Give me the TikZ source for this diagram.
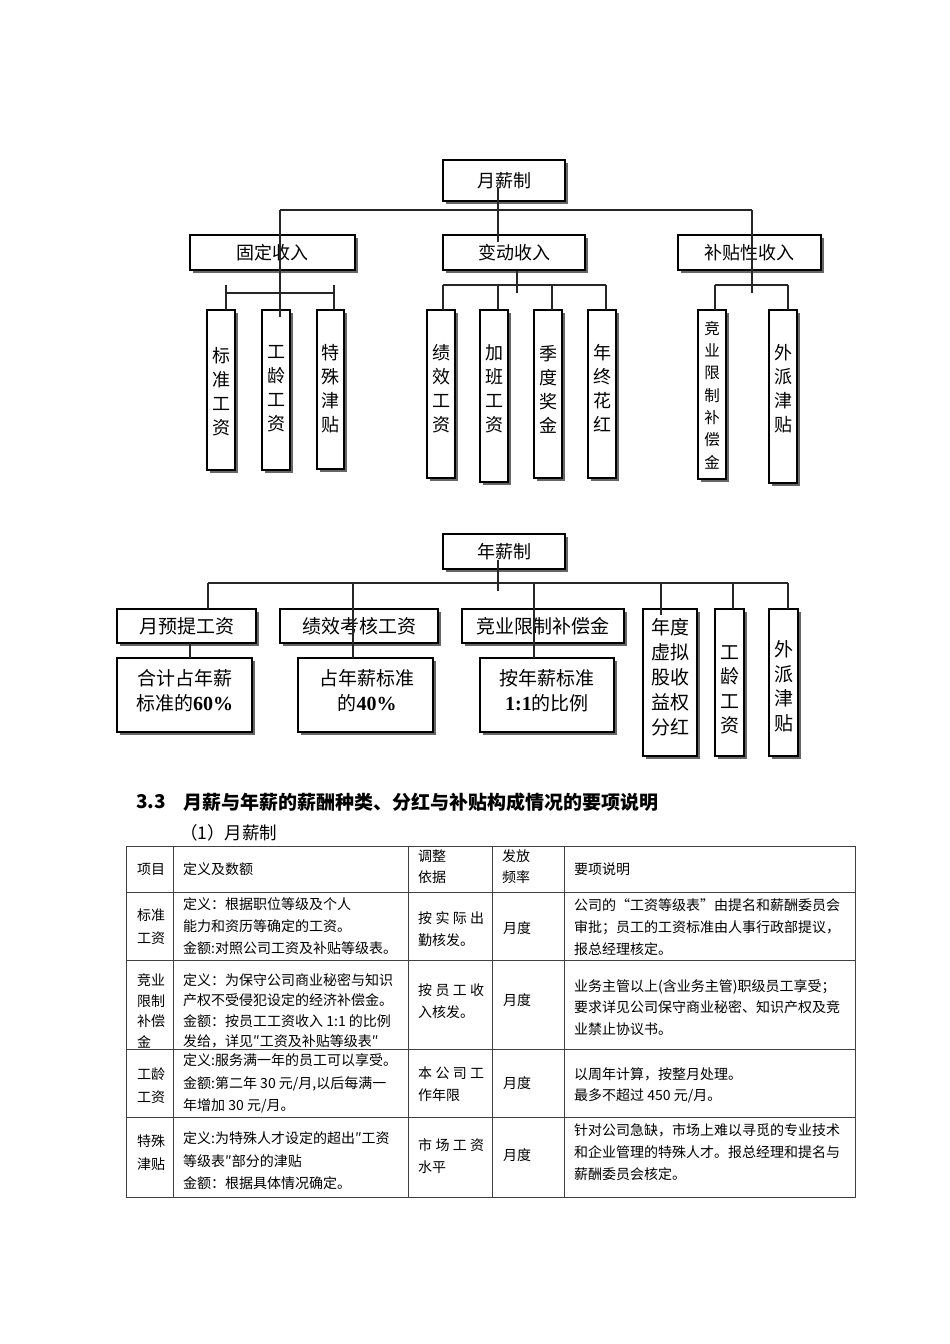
\documentclass[tikz,border=0pt]{standalone}
\usepackage{fontspec}
\setmainfont{Noto Sans CJK SC}
\newfontfamily\tnr{Liberation Serif}
\usetikzlibrary{shadows}
\begin{document}
\begin{tikzpicture}[x=1pt,y=-1pt,
  box/.style={draw=black, line width=1.2pt, fill=white, inner sep=0pt,
    general shadow={fill=black!60, shadow xshift=2.5pt, shadow yshift=-2.5pt}},
  conn/.style={draw=black!85, line width=1.1pt},
  htop/.style={font=\fontsize{18}{18}\selectfont},
  vtxt/.style={align=center, inner sep=0pt, font=\fontsize{18}{24}\selectfont},
  vsml/.style={align=center, inner sep=0pt, font=\fontsize{15.5}{22.3}\selectfont},
  hbot/.style={font=\fontsize{19}{19}\selectfont},
  tbot/.style={align=center, inner sep=0pt, font=\fontsize{19}{#1}\selectfont},
  tbot/.default=24.5,
  tab/.style={draw=black!75, line width=0.8pt},
  cell/.style={anchor=north west, align=left, inner sep=0pt, font=\fontsize{14}{#1}\selectfont},
  cell/.default=22]
\useasboundingbox (0,0) rectangle (950,1344);
\fill[white] (0,0) rectangle (950,1344);

% ---------------- monthly salary chart ----------------
\node[box, htop, minimum width=122pt, minimum height=41pt] (yx) at (504,180.5) {月薪制};
\node[box, htop, minimum width=165pt, minimum height=35pt] (gd) at (272.5,252.5) {固定收入};
\node[box, htop, minimum width=142pt, minimum height=35pt] (bd) at (514,252.5) {变动收入};
\node[box, htop, minimum width=143pt, minimum height=35pt] (bt) at (749.5,252.5) {补贴性收入};

\node[box, minimum width=28pt, minimum height=160pt] (s1) at (221,390) {};
\node[box, minimum width=28pt, minimum height=160pt] (s2) at (276,390) {};
\node[box, minimum width=27pt, minimum height=159pt] (s3) at (330.5,389.5) {};
\node[box, minimum width=28pt, minimum height=168pt] (v1) at (441,394) {};
\node[box, minimum width=28pt, minimum height=172pt] (v2) at (494,396) {};
\node[box, minimum width=28pt, minimum height=168pt] (v3) at (548,394) {};
\node[box, minimum width=28pt, minimum height=168pt] (v4) at (602,394) {};
\node[box, minimum width=28pt, minimum height=169pt] (b1) at (712,394.5) {};
\node[box, minimum width=28pt, minimum height=173pt] (b2) at (783,396.5) {};

\node[vtxt] (s1t) at (221,392) {标\\准\\工\\资};
\node[vtxt] (s2t) at (276,389) {工\\龄\\工\\资};
\node[vtxt] (s3t) at (330.5,389) {特\\殊\\津\\贴};
\node[vtxt] (v1t) at (441,389) {绩\\效\\工\\资};
\node[vtxt] (v2t) at (494,389) {加\\班\\工\\资};
\node[vtxt] (v3t) at (548,389) {季\\度\\奖\\金};
\node[vtxt] (v4t) at (602,388) {年\\终\\花\\红};
\node[vsml] (b1t) at (712,395) {竞\\业\\限\\制\\补\\偿\\金};
\node[vtxt] (b2t) at (783,389) {外\\派\\津\\贴};

% connectors (monthly)
\coordinate (yxA) at (498,187);  \coordinate (yxB) at (498,242);
\coordinate (busL) at (280,210); \coordinate (busR) at (752,210);
\coordinate (gdn) at (280,317);  \coordinate (btn) at (752,293);
\draw[conn] (yxA) -- (yxB);
\draw[conn] (busL) -- (busR);
\draw[conn] (busL) -- (gdn);
\draw[conn] (busR) -- (btn);
% fixed group
\coordinate (la) at (226,285); \coordinate (lb) at (226,310);
\coordinate (ra) at (334,285); \coordinate (rb) at (334,310);
\coordinate (lm) at (226,293); \coordinate (rm) at (334,293);
\draw[conn] (la) -- (lb);
\draw[conn] (ra) -- (rb);
\draw[conn] (lm) -- (rm);
% variable group
\coordinate (vup) at (517,271); \coordinate (vdn) at (517,293);
\draw[conn] (vup) -- (vdn);
\coordinate (m1) at (443,285); \coordinate (m1b) at (443,310);
\coordinate (m2) at (498,285); \coordinate (m2b) at (498,310);
\coordinate (m3) at (552,285); \coordinate (m3b) at (552,310);
\coordinate (m4) at (606,285); \coordinate (m4b) at (606,310);
\draw[conn] (m1) -- (m4);
\draw[conn] (m1) -- (m1b);
\draw[conn] (m2) -- (m2b);
\draw[conn] (m3) -- (m3b);
\draw[conn] (m4) -- (m4b);
% allowance group
\coordinate (r1) at (715,285); \coordinate (r1b) at (715,310);
\coordinate (r2) at (788,285); \coordinate (r2b) at (788,310);
\draw[conn] (r1) -- (r2);
\draw[conn] (r1) -- (r1b);
\draw[conn] (r2) -- (r2b);

% ---------------- annual salary chart ----------------
\node[box, htop, minimum width=122pt, minimum height=35pt] (nx) at (504,551.5) {年薪制};
\node[box, hbot, minimum width=139pt, minimum height=34pt] (ytq) at (186.5,626) {月预提工资};
\node[box, hbot, minimum width=158pt, minimum height=34pt] (jx) at (359,626) {绩效考核工资};
\node[box, hbot, minimum width=162pt, minimum height=34pt] (jy) at (543,626) {竞业限制补偿金};
\node[box, minimum width=135pt, minimum height=74pt] (hj) at (184.5,695) {};
\node[box, minimum width=135pt, minimum height=74pt] (zn) at (365.5,695) {};
\node[box, minimum width=134pt, minimum height=74pt] (an) at (547,695) {};
\node[box, minimum width=54pt, minimum height=147pt] (nd) at (670,682.5) {};
\node[box, minimum width=29pt, minimum height=147pt] (gl) at (729.5,682.5) {};
\node[box, minimum width=29pt, minimum height=147pt] (wp) at (783.5,682.5) {};

\node[tbot] (hjt) at (184.5,690.5) {合计占年薪\\标准的{\tnr\bfseries\fontsize{20}{20}\selectfont 60\%}};
\node[tbot] (znt) at (367,690.5) {占年薪标准\\的{\tnr\bfseries\fontsize{20}{20}\selectfont 40\%}};
\node[tbot] (ant) at (547,690.5) {按年薪标准\\{\tnr\bfseries\fontsize{20}{20}\selectfont 1:1}的比例};
\node[tbot=25] (ndt) at (670,677) {年度\\虚拟\\股收\\益权\\分红};
\node[tbot] (glt) at (729.5,690) {工\\龄\\工\\资};
\node[tbot] (wpt) at (783.5,686.5) {外\\派\\津\\贴};

% connectors (annual)
\coordinate (nA) at (498,560); \coordinate (nB) at (498,591);
\coordinate (nL) at (208,583); \coordinate (nR) at (788,583);
\draw[conn] (nA) -- (nB);
\draw[conn] (nL) -- (nR);
\coordinate (k1) at (208,583); \coordinate (k1b) at (208,609);
\coordinate (k2) at (353,583); \coordinate (k2b) at (353,658);
\coordinate (k3) at (534,583); \coordinate (k3b) at (534,658);
\coordinate (k4) at (661,583); \coordinate (k4b) at (661,615);
\coordinate (k5) at (733,583); \coordinate (k5b) at (733,609);
\coordinate (k6) at (788,583); \coordinate (k6b) at (788,609);
\draw[conn] (k1) -- (k1b);
\draw[conn] (k2) -- (k2b);
\draw[conn] (k3) -- (k3b);
\draw[conn] (k4) -- (k4b);
\draw[conn] (k5) -- (k5b);
\draw[conn] (k6) -- (k6b);
\coordinate (y1) at (190,643); \coordinate (y1b) at (190,658);
\draw[conn] (y1) -- (y1b);

% ---------------- headings ----------------
\node[anchor=west, inner sep=0pt, font=\bfseries\fontsize{19}{19}\selectfont] (h33) at (136,802) {3.3};
\node[anchor=west, inner sep=0pt, font=\bfseries\fontsize{19}{19}\selectfont] (htitle) at (183,802) {月薪与年薪的薪酬种类、分红与补贴构成情况的要项说明};
\node[anchor=west, inner sep=0pt, font=\fontsize{17.5}{17.5}\selectfont] (hsub) at (180,833) {（1）月薪制};

% ---------------- table ----------------
\draw[tab] (126,846) rectangle (855,1197);
\foreach \yy in {892,960,1049,1117} \draw[tab] (126,\yy) -- (855,\yy);
\foreach \xx in {173,408,492,564} \draw[tab] (\xx,846) -- (\xx,1197);

% header
\node[cell] (c01) at (137,859) {\strut 项目};
\node[cell] (c02) at (183,859) {\strut 定义及数额};
\node[cell=21] (c03) at (418,847) {\strut 调整\\依据};
\node[cell=21] (c04) at (502,847) {\strut 发放\\频率};
\node[cell] (c05) at (574,859) {\strut 要项说明};
% row 1
\node[cell=23] (c11) at (137,904) {\strut 标准\\工资};
\node[cell] (c12) at (183,894) {\strut 定义：根据职位等级及个人\\能力和资历等确定的工资。\\金额:对照公司工资及补贴等级表。};
\node[cell] (c13) at (418,908) {\strut\makebox[66pt][s]{按\hfil 实\hfil 际\hfil 出}\\勤核发。};
\node[cell] (c14) at (503,918) {\strut 月度};
\node[cell] (c15) at (574,895) {\strut 公司的“工资等级表”由提名和薪酬委员会\\审批；员工的工资标准由人事行政部提议，\\报总经理核定。};
% row 2
\node[cell=20.5] (c21) at (137,971) {\strut 竞业\\限制\\补偿\\金};
\node[cell=20.5] (c22) at (183,970.5) {\strut 定义：为保守公司商业秘密与知识\\产权不受侵犯设定的经济补偿金。\\金额：按员工工资收入 1:1 的比例\\发给，详见″工资及补贴等级表″};
\node[cell] (c23) at (418,980) {\strut\makebox[66pt][s]{按\hfil 员\hfil 工\hfil 收}\\入核发。};
\node[cell] (c24) at (503,990) {\strut 月度};
\node[cell=21.5] (c25) at (574,976) {\strut 业务主管以上(含业务主管)职级员工享受；\\要求详见公司保守商业秘密、知识产权及竞\\业禁止协议书。};
% row 3
\node[cell=23] (c31) at (137,1063) {\strut 工龄\\工资};
\node[cell=22.5] (c32) at (183,1050) {\strut 定义:服务满一年的员工可以享受。\\金额:第二年 30 元/月,以后每满一\\年增加 30 元/月。};
\node[cell] (c33) at (418,1063) {\strut\makebox[66pt][s]{本\hfil 公\hfil 司\hfil 工}\\作年限};
\node[cell] (c34) at (503,1073) {\strut 月度};
\node[cell=21] (c35) at (574,1065) {\strut 以周年计算，按整月处理。\\最多不超过 450 元/月。};
% row 4
\node[cell=23] (c41) at (137,1130) {\strut 特殊\\津贴};
\node[cell=22.5] (c42) at (183,1128) {\strut 定义:为特殊人才设定的超出″工资\\等级表″部分的津贴\\金额：根据具体情况确定。};
\node[cell] (c43) at (418,1135) {\strut\makebox[66pt][s]{市\hfil 场\hfil 工\hfil 资}\\水平};
\node[cell] (c44) at (503,1145) {\strut 月度};
\node[cell] (c45) at (574,1120) {\strut 针对公司急缺，市场上难以寻觅的专业技术\\和企业管理的特殊人才。报总经理和提名与\\薪酬委员会核定。};
\end{tikzpicture}
\end{document}
